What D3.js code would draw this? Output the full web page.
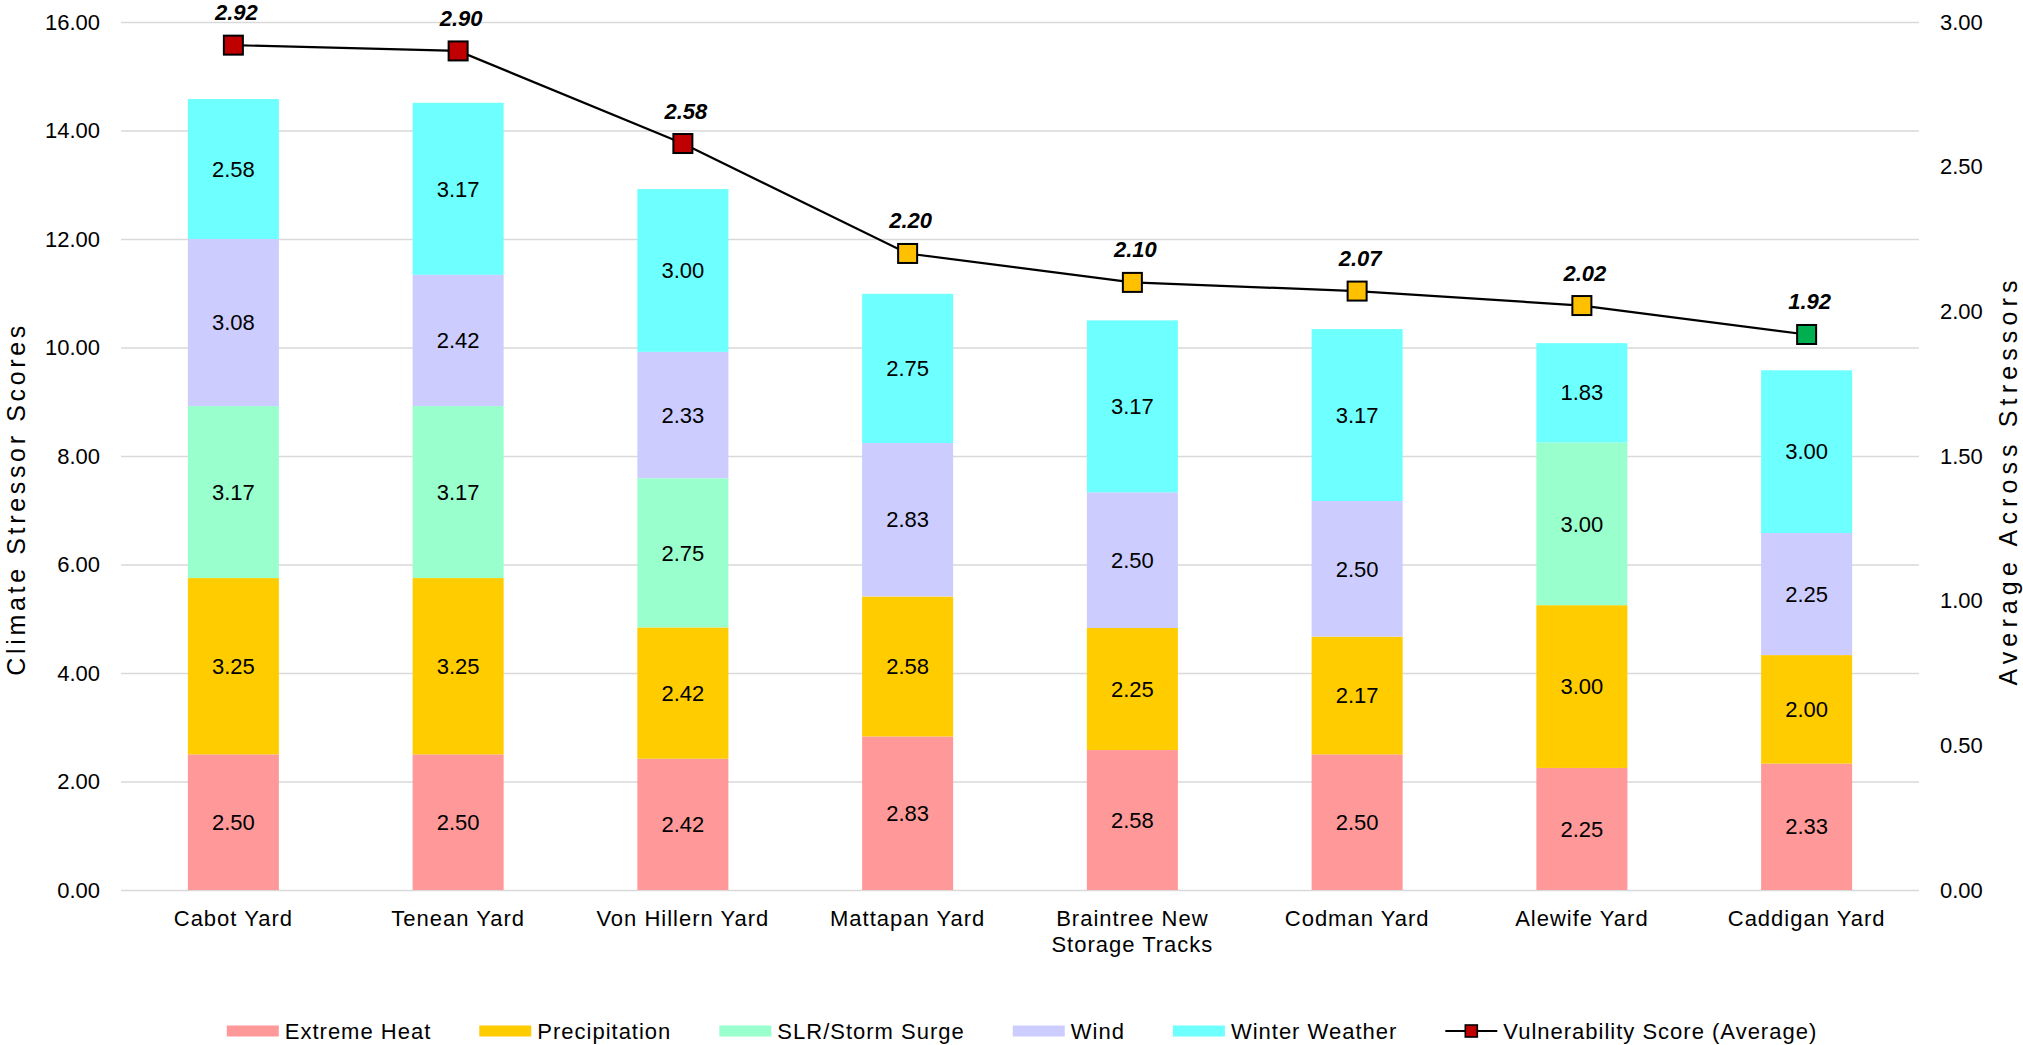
<!DOCTYPE html>
<html>
<head>
<meta charset="utf-8">
<script src="https://cdn.jsdelivr.net/npm/d3@7"></script>
<style>
  body { margin: 0; background: #fff; }
  svg { display: block; font-family: "Liberation Sans", Arial, sans-serif; }
</style>
</head>
<body>
<div id="chart"></div>
<script>
// data
const categories = ["Cabot Yard", "Tenean Yard", "Von Hillern Yard", "Mattapan Yard",
  "Braintree New Storage Tracks", "Codman Yard", "Alewife Yard", "Caddigan Yard"];
const seriesNames = ["Extreme Heat", "Precipitation", "SLR/Storm Surge", "Wind", "Winter Weather"];
const extremeHeat   = [2.50, 2.50, 2.42, 2.83, 2.58, 2.50, 2.25, 2.33];
const precipitation = [3.25, 3.25, 2.42, 2.58, 2.25, 2.17, 3.00, 2.00];
const slrStorm      = [3.17, 3.17, 2.75, 0, 0, 0, 3.00, 0];
const wind          = [3.08, 2.42, 2.33, 2.83, 2.50, 2.50, 0, 2.25];
const winter        = [2.58, 3.17, 3.00, 2.75, 3.17, 3.17, 1.83, 3.00];
const vulnerability = [2.92, 2.90, 2.58, 2.20, 2.10, 2.07, 2.02, 1.92];
const leftTicks  = [0, 2, 4, 6, 8, 10, 12, 14, 16];
const rightTicks = [0, 0.5, 1, 1.5, 2, 2.5, 3];

const width = 2023, height = 1045;
const plotLeft = 121, plotRight = 1919, plotTop = 22, plotBottom = 890;

const colors = d3.scaleOrdinal()
  .domain(seriesNames)
  .range(["#FF9999", "#FFCC00", "#99FFCC", "#CCCCFF", "#6EFFFF"]);
// marker colour by score band
const markerColor = d3.scaleThreshold()
  .domain([2.0, 2.5])
  .range(["#00B050", "#FFC000", "#C00000"]);

const rows = categories.map((c, i) => ({
  name: c,
  "Extreme Heat": extremeHeat[i],
  "Precipitation": precipitation[i],
  "SLR/Storm Surge": slrStorm[i],
  "Wind": wind[i],
  "Winter Weather": winter[i]
}));

const svg = d3.select("#chart")
  .append("svg")
  .attr("width", width)
  .attr("height", height);

svg.append("rect").attr("width", width).attr("height", height).attr("fill", "#fff");

const x = d3.scaleBand()
  .domain(categories)
  .range([plotLeft, plotRight])
  .paddingInner(0.595)
  .paddingOuter(0.2975);

const yL = d3.scaleLinear().domain([0, 16]).range([plotBottom, plotTop]);
const yR = d3.scaleLinear().domain([0, 3]).range([plotBottom, plotTop]);

// gridlines
svg.append("g")
  .attr("transform", `translate(${plotLeft},0)`)
  .call(d3.axisLeft(yL).tickValues(leftTicks).tickSize(-(plotRight - plotLeft)).tickFormat(""))
  .call(g => g.select(".domain").remove())
  .call(g => g.selectAll("line").attr("stroke", "#D9D9D9").attr("stroke-width", 1.6));

// left axis
svg.append("g")
  .attr("transform", `translate(${plotLeft},0)`)
  .call(d3.axisLeft(yL).tickValues(leftTicks).tickSize(0).tickPadding(21).tickFormat(d3.format(".2f")))
  .call(g => g.select(".domain").remove())
  .call(g => g.selectAll("text").attr("font-size", 22).attr("fill", "#000")
    .attr("font-family", "Liberation Sans, Arial, sans-serif"));

// right axis
svg.append("g")
  .attr("transform", `translate(${plotRight},0)`)
  .call(d3.axisRight(yR).tickValues(rightTicks).tickSize(0).tickPadding(21).tickFormat(d3.format(".2f")))
  .call(g => g.select(".domain").remove())
  .call(g => g.selectAll("text").attr("font-size", 22).attr("fill", "#000")
    .attr("font-family", "Liberation Sans, Arial, sans-serif"));

// bottom axis with wrapped labels
const xAxis = svg.append("g")
  .attr("transform", `translate(0,${plotBottom})`)
  .call(d3.axisBottom(x).tickSize(0).tickPadding(20))
  .call(g => g.select(".domain").remove());

xAxis.selectAll("text")
  .attr("font-size", 22)
  .attr("fill", "#000")
  .attr("letter-spacing", 1)
  .attr("font-family", "Liberation Sans, Arial, sans-serif")
  .each(function (d) {
    const t = d3.select(this);
    const words = d.split(" ");
    t.text(null);
    let lines = [], line = [];
    const probe = t.append("tspan");
    words.forEach(w => {
      line.push(w);
      probe.text(line.join(" "));
      if (probe.node().getComputedTextLength() > 205 && line.length > 1) {
        line.pop();
        lines.push(line.join(" "));
        line = [w];
      }
    });
    lines.push(line.join(" "));
    probe.remove();
    lines.forEach((l, i) => {
      t.append("tspan").attr("x", 0).attr("dy", i === 0 ? "0.71em" : "1.22em").text(l);
    });
  });

// stacked bars
const stacked = d3.stack().keys(seriesNames)(rows);

const layers = svg.append("g")
  .selectAll("g")
  .data(stacked)
  .join("g")
  .attr("fill", d => colors(d.key));

layers.selectAll("rect")
  .data(d => d)
  .join("rect")
  .attr("x", d => x(d.data.name))
  .attr("width", x.bandwidth())
  .attr("y", d => yL(d[1]))
  .attr("height", d => yL(d[0]) - yL(d[1]));

// segment labels
const segLabels = svg.append("g")
  .attr("font-size", 22)
  .attr("text-anchor", "middle")
  .attr("fill", "#000");

stacked.forEach(layer => {
  segLabels.append("g")
    .selectAll("text")
    .data(layer.filter(d => d[1] - d[0] > 0))
    .join("text")
    .attr("x", d => x(d.data.name) + x.bandwidth() / 2)
    .attr("y", d => yL((d[0] + d[1]) / 2))
    .attr("dy", "0.35em")
    .text(d => d3.format(".2f")(d[1] - d[0]));
});

// vulnerability line
const cx = d => x(d) + x.bandwidth() / 2;
const points = categories.map((c, i) => ({ name: c, v: vulnerability[i] }));

svg.append("path")
  .datum(points)
  .attr("fill", "none")
  .attr("stroke", "#000")
  .attr("stroke-width", 2.2)
  .attr("d", d3.line().x(d => cx(d.name)).y(d => yR(d.v)));

svg.append("g")
  .selectAll("rect")
  .data(points)
  .join("rect")
  .attr("x", d => cx(d.name) - 9.5)
  .attr("y", d => yR(d.v) - 9.5)
  .attr("width", 19)
  .attr("height", 19)
  .attr("fill", d => markerColor(d.v))
  .attr("stroke", "#000")
  .attr("stroke-width", 2);

svg.append("g")
  .selectAll("text")
  .data(points)
  .join("text")
  .attr("x", d => cx(d.name) + 3)
  .attr("y", d => yR(d.v) - 25)
  .attr("text-anchor", "middle")
  .attr("font-size", 22)
  .attr("font-weight", "bold")
  .attr("font-style", "italic")
  .text(d => d3.format(".2f")(d.v));

// axis titles, read bottom to top; spread letters to the reference length
function axisTitle(label, cxPos, cyPos, span) {
  const t = svg.append("text")
    .attr("font-size", 25)
    .attr("text-anchor", "middle")
    .text(label);
  const natural = t.node().getComputedTextLength();
  const ls = Math.max(0, (span - natural) / (label.length - 1));
  t.attr("letter-spacing", ls)
    .attr("transform", `translate(${cxPos},${cyPos + ls / 2}) rotate(-90)`);
}
axisTitle("Climate Stressor Scores", 25, 497, 350);
axisTitle("Average Across Stressors", 2017, 478, 405);

// legend
const legendItems = seriesNames.map(s => ({ label: s, type: "bar" }))
  .concat([{ label: "Vulnerability Score (Average)", type: "line" }]);

const legend = svg.append("g").attr("font-size", 22).attr("letter-spacing", 1);
const legendY = 1031;
let lx = 0;
legendItems.forEach(item => {
  const g = legend.append("g").attr("transform", `translate(${lx},0)`);
  if (item.type === "bar") {
    g.append("rect")
      .attr("x", 0).attr("y", legendY - 5.5)
      .attr("width", 52).attr("height", 11)
      .attr("fill", colors(item.label));
  } else {
    g.append("line")
      .attr("x1", 0).attr("x2", 52)
      .attr("y1", legendY).attr("y2", legendY)
      .attr("stroke", "#000").attr("stroke-width", 2.2);
    g.append("rect")
      .attr("x", 20).attr("y", legendY - 6)
      .attr("width", 12).attr("height", 12)
      .attr("fill", "#C00000").attr("stroke", "#000").attr("stroke-width", 1.6);
  }
  const t = g.append("text")
    .attr("x", 58).attr("y", legendY).attr("dy", "0.35em")
    .text(item.label);
  lx += 58 + t.node().getComputedTextLength() + 48;
});
const legendW = lx - 48;
legend.attr("transform", `translate(${1022 - legendW / 2},0)`);
</script>
</body>
</html>
